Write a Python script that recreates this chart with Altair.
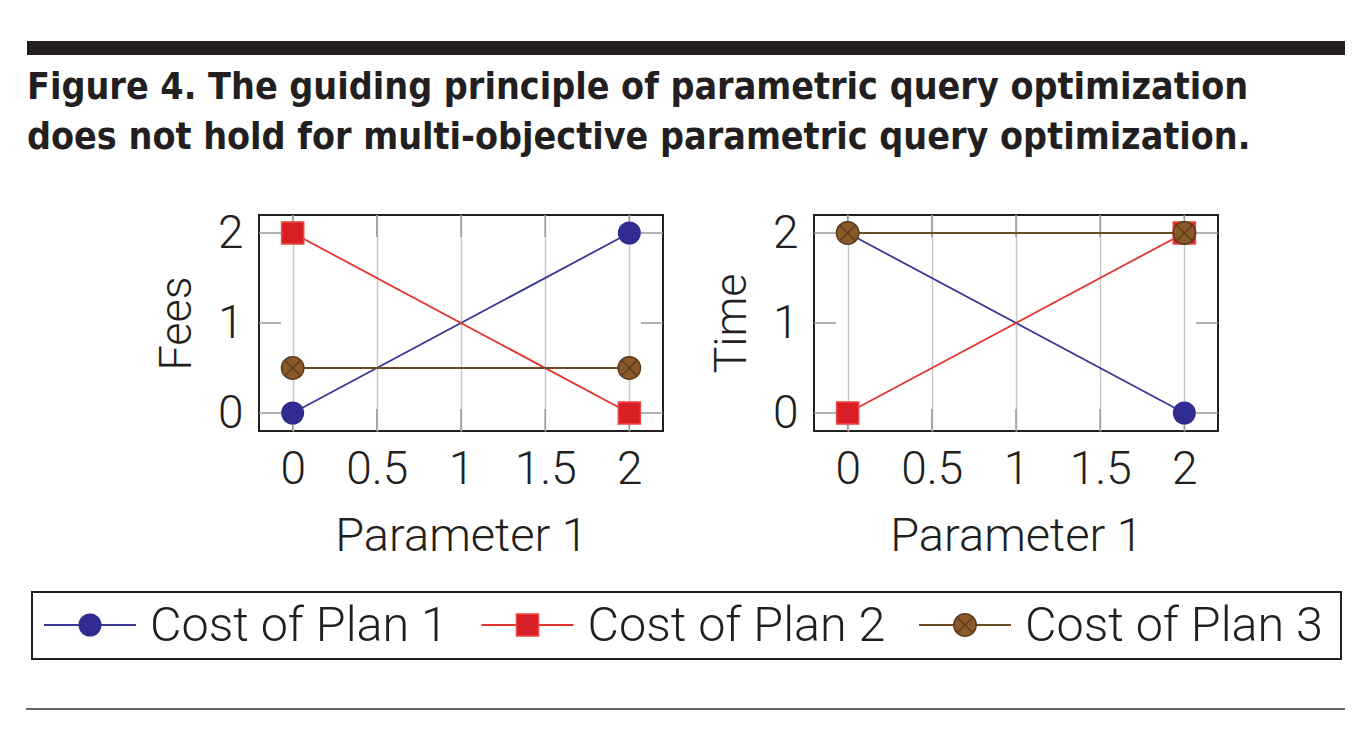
import altair as alt
import pandas as pd

# ---------------- data ----------------
param = [0, 2]
fees_plan1 = [0, 2]
fees_plan2 = [2, 0]
fees_plan3 = [0.5, 0.5]
time_plan1 = [2, 0]
time_plan2 = [0, 2]
time_plan3 = [2, 2]
plans = ["Cost of Plan 1", "Cost of Plan 2", "Cost of Plan 3"]
x_ticks = [0, 0.5, 1, 1.5, 2]
y_ticks = [0, 1, 2]
title_lines = [
    "Figure 4. The guiding principle of parametric query optimization",
    "does not hold for multi-objective parametric query optimization.",
]

# ---------------- style ----------------
FONT = "Roboto"
TEXT = "#231f20"
BLUE_FILL, BLUE_LINE = "#312c92", "#3b3794"
RED_FILL, RED_STROKE, RED_LINE = "#d91e25", "#ec4a44", "#e3342f"
BROWN_FILL, BROWN_STROKE, BROWN_LINE = "#8b5a2b", "#5c3b1c", "#6f4a25"
XPATH = "M-0.7,-0.7L0.7,0.7M-0.7,0.7L0.7,-0.7"
PW, PH = 404, 216
TL = 22
TOP = 207  # canvas y of the panels' top edge
S_CIRCLE, S_SQUARE, S_BROWN = 529, 490, 500
LW = 1.8

x_scale = alt.Scale(domain=[-0.2, 2.2], nice=False, zero=False)
y_scale = alt.Scale(domain=[-0.2, 2.2], nice=False, zero=False)


def x_enc():
    return alt.X(
        "param:Q", scale=x_scale,
        axis=alt.Axis(values=x_ticks, format="~g", grid=True, gridColor="#c8c8c8",
                      gridWidth=1.5, domain=False, ticks=False, tickSize=0,
                      labelPadding=16, labelFlush=False, title="Parameter 1",
                      titlePadding=21, titleFontSize=47, labelFontSize=46),
    )


def y_enc(title):
    return alt.Y(
        "cost:Q", scale=y_scale,
        axis=alt.Axis(values=y_ticks, format="~g", grid=False, domain=False,
                      ticks=False, tickSize=0, labelPadding=16, title=title,
                      titlePadding=18, titleFontSize=45, labelFontSize=46),
    )


def panel(ytitle, p1, p2, p3):
    layers = []
    specs = [
        (plans[0], p1, BLUE_LINE, dict(shape="circle", filled=True, fill=BLUE_FILL, size=S_CIRCLE, strokeWidth=0, opacity=1)),
        (plans[1], p2, RED_LINE, dict(shape="square", filled=True, fill=RED_FILL, stroke=RED_STROKE, strokeWidth=1.5, size=S_SQUARE, opacity=1)),
        (plans[2], p3, BROWN_LINE, dict(shape="circle", filled=True, fill=BROWN_FILL, stroke=BROWN_STROKE, strokeWidth=1.5, size=S_BROWN, opacity=1)),
    ]
    for name, vals, lcol, mk in specs:
        df = pd.DataFrame({"param": param, "cost": vals, "plan": name})
        base = alt.Chart(df).encode(x=x_enc(), y=y_enc(ytitle))
        layers.append(base.mark_line(color=lcol, strokeWidth=LW))
        layers.append(base.mark_point(**mk))
        if name == plans[2]:
            layers.append(base.mark_point(shape=XPATH, filled=False, color=BROWN_STROKE,
                                          strokeWidth=1.3, size=S_BROWN, opacity=1))
    xt = pd.DataFrame({"param": x_ticks})
    yt = pd.DataFrame({"cost": y_ticks})
    tick_style = dict(color="#9a9a9a", strokeWidth=1.5)
    ticks = [
        alt.Chart(xt).mark_rule(**tick_style).encode(x=x_enc(), y=alt.value(0), y2=alt.value(TL)),
        alt.Chart(xt).mark_rule(**tick_style).encode(x=x_enc(), y=alt.value(PH - TL), y2=alt.value(PH)),
        alt.Chart(yt).mark_rule(**tick_style).encode(y=y_enc(ytitle), x=alt.value(0), x2=alt.value(TL)),
        alt.Chart(yt).mark_rule(**tick_style).encode(y=y_enc(ytitle), x=alt.value(PW - TL), x2=alt.value(PW)),
    ]
    return alt.layer(*ticks, *layers).properties(
        width=PW, height=PH,
        view=alt.ViewBackground(stroke=TEXT, strokeWidth=2),
    )


left = panel("Fees", fees_plan1, fees_plan2, fees_plan3)
right = panel("Time", time_plan1, time_plan2, time_plan3)

# ---------------- header + legend, drawn in the first (empty) column ----------------
one = pd.DataFrame({"k": [0]})
anchor = alt.Chart(one).mark_rule(strokeOpacity=0, strokeWidth=1).encode(
    x=alt.value(0.5), x2=alt.value(0.5), y=alt.value(-TOP + 0.5), y2=alt.value(0))
bar = alt.Chart(one).mark_rule(color=TEXT, strokeWidth=14, strokeCap="butt").encode(
    x=alt.value(19), x2=alt.value(1337), y=alt.value(40 - TOP))
hdf = pd.DataFrame({"line": list(range(len(title_lines))), "text": title_lines})
htext = alt.Chart(hdf).mark_text(
    align="left", baseline="alphabetic",
    font="Liberation Sans Narrow, DejaVu Sans Condensed, Roboto Condensed, Liberation Sans",
    fontWeight="bold", fontSize=37.3, color=TEXT,
).encode(
    x=alt.value(19),
    y=alt.Y("line:O", scale=alt.Scale(type="point", domain=[0, 1], range=[91 - TOP, 141 - TOP], padding=0), axis=None),
    text="text:N",
)

ldf = pd.DataFrame({"plan": plans})
lx = alt.X("plan:N", scale=alt.Scale(type="point", domain=plans, range=[82, 957], padding=0), axis=None)
LY = 617 - TOP
box = alt.Chart(one).mark_rect(fill="white", stroke=TEXT, strokeWidth=2).encode(
    x=alt.value(24), x2=alt.value(1333), y=alt.value(584 - TOP), y2=alt.value(651 - TOP))
color_line = alt.Color("plan:N", scale=alt.Scale(domain=plans, range=[BLUE_LINE, RED_LINE, BROWN_LINE]), legend=None)
lrule = alt.Chart(ldf).mark_rule(strokeWidth=LW, xOffset=-46, x2Offset=46).encode(
    x=lx, x2=alt.X2("plan"), y=alt.value(LY), color=color_line)
lpt1 = alt.Chart(ldf).transform_filter(alt.datum.plan == plans[0]).mark_point(
    shape="circle", filled=True, fill=BLUE_FILL, size=S_CIRCLE, strokeWidth=0, opacity=1).encode(x=lx, y=alt.value(LY))
lpt2 = alt.Chart(ldf).transform_filter(alt.datum.plan == plans[1]).mark_point(
    shape="square", filled=True, fill=RED_FILL, stroke=RED_STROKE, strokeWidth=1.5, size=S_SQUARE, opacity=1).encode(x=lx, y=alt.value(LY))
lpt3 = alt.Chart(ldf).transform_filter(alt.datum.plan == plans[2]).mark_point(
    shape="circle", filled=True, fill=BROWN_FILL, stroke=BROWN_STROKE, strokeWidth=1.5, size=S_BROWN, opacity=1).encode(x=lx, y=alt.value(LY))
lpt3x = alt.Chart(ldf).transform_filter(alt.datum.plan == plans[2]).mark_point(
    shape=XPATH, filled=False, color=BROWN_STROKE, strokeWidth=1.3, size=S_BROWN, opacity=1).encode(x=lx, y=alt.value(LY))
ltext = alt.Chart(ldf).mark_text(align="left", baseline="middle", dx=60, dy=1, font=FONT,
                                 fontWeight=300, fontSize=48.5, color=TEXT).encode(
    x=lx, y=alt.value(LY), text="plan:N")
footer_rule = alt.Chart(one).mark_rule(color="#333333", strokeWidth=1.5).encode(
    x=alt.value(18), x2=alt.value(1337), y=alt.value(701 - TOP))

frame = alt.layer(anchor, bar, htext, box, lrule, lpt1, lpt2, lpt3, lpt3x, ltext, footer_rule).properties(
    width=100, height=PH)

chart = alt.hconcat(frame, left, right, spacing=151, bounds="flush").properties(
    padding=0
).configure_view(stroke=None).configure_axis(
    labelFont=FONT, labelFontWeight=300, labelColor=TEXT,
    titleFont=FONT, titleFontWeight=300, titleColor=TEXT,
)

chart.save("out.html", embed_options={"renderer": "svg", "actions": False})
